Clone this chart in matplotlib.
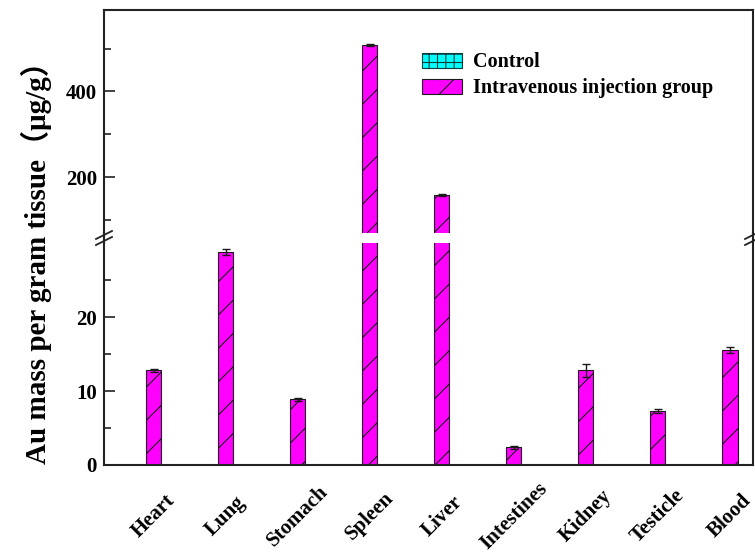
import numpy as np
import matplotlib
matplotlib.use('Agg')
import matplotlib.pyplot as plt
from matplotlib.lines import Line2D

# data
organs = ['Heart', 'Lung', 'Stomach', 'Spleen', 'Liver', 'Intestines',
          'Kidney', 'Testicle', 'Blood']
control = [0, 0, 0, 0, 0, 0, 0, 0, 0]
iv_mean = [12.8, 28.8, 8.9, 508, 159, 2.4, 12.8, 7.3, 15.5]
iv_err = [0.2, 0.4, 0.2, 3, 2, 0.2, 0.9, 0.3, 0.4]

plt.rcParams['font.family'] = ['Liberation Serif', 'Noto Sans CJK SC']
plt.rcParams['font.weight'] = 'bold'
plt.rcParams['hatch.linewidth'] = 0.8

W, H = 755, 553
fig = plt.figure(figsize=(W / 100, H / 100), dpi=100)


def box(x0, y0, x1, y1):
    # pixel box (top-left origin) -> figure fraction rect
    return [x0 / W, 1 - y1 / H, (x1 - x0) / W, (y1 - y0) / H]


ax_top = fig.add_axes(box(104, 10, 753, 233))
ax_bot = fig.add_axes(box(104, 243, 753, 465))

x = np.arange(len(organs))
width = 0.21
spine_c = '#222222'

for ax in (ax_top, ax_bot):
    ax.bar(x, control, width, color='#00FFFF', edgecolor='#0b3b3b',
           hatch='++', linewidth=0.8, label='Control')
    ax.bar(x, iv_mean, width, color='#FF00FF', edgecolor='#1a1a1a',
           hatch='/', linewidth=0.8, label='Intravenous injection group')
    ax.errorbar(x, iv_mean, yerr=iv_err, fmt='none', ecolor='#1a1a1a',
                elinewidth=1, capsize=3, capthick=1)
    ax.set_xlim(-0.69, 8.32)
    for s in ax.spines.values():
        s.set_linewidth(1.5)
        s.set_color(spine_c)
    ax.tick_params(axis='y', which='major', direction='in', length=8,
                   width=1.2, labelsize=15, pad=5, color=spine_c)
    ax.tick_params(axis='y', which='minor', direction='in', length=5,
                   width=1.2, color=spine_c)

ax_bot.set_ylim(0, 30)
ax_bot.set_yticks([0, 10, 20])
ax_bot.set_yticks([5, 15, 25], minor=True)
ax_bot.spines['top'].set_visible(False)
ax_bot.set_xticks(x)
ax_bot.set_xticklabels(organs, rotation=45, ha='center', va='center',
                       fontsize=15)
ax_bot.tick_params(axis='x', length=0, pad=37)

ax_top.set_ylim(70, 590)
ax_top.set_yticks([200, 400])
ax_top.set_yticks([100, 300, 500], minor=True)
ax_top.spines['bottom'].set_visible(False)
ax_top.set_xticks([])

ax_top.legend(loc='upper left', bbox_to_anchor=(0.49, 0.81), frameon=False,
              fontsize=14.5, borderpad=0, borderaxespad=0, handlelength=2.0,
              handleheight=0.8, handletextpad=0.55, labelspacing=0.3)

# axis break: connect spines through the gap and draw the // marks
for xc in (104, 753):
    fig.add_artist(Line2D([xc / W, xc / W], [1 - 243 / H, 1 - 233 / H],
                          transform=fig.transFigure, color=spine_c, lw=1.5))
    for dy in (-3, 3):
        fig.add_artist(Line2D([(xc - 8) / W, (xc + 8) / W],
                              [1 - (238 + dy + 4) / H, 1 - (238 + dy - 4) / H],
                              transform=fig.transFigure, color=spine_c, lw=1.3))

fig.text(36 / W, 1 - 256 / H, 'Au mass per gram tissue（μg/g）', rotation=90,
         ha='center', va='center', fontsize=21)

fig.savefig('out.png', dpi=100)
